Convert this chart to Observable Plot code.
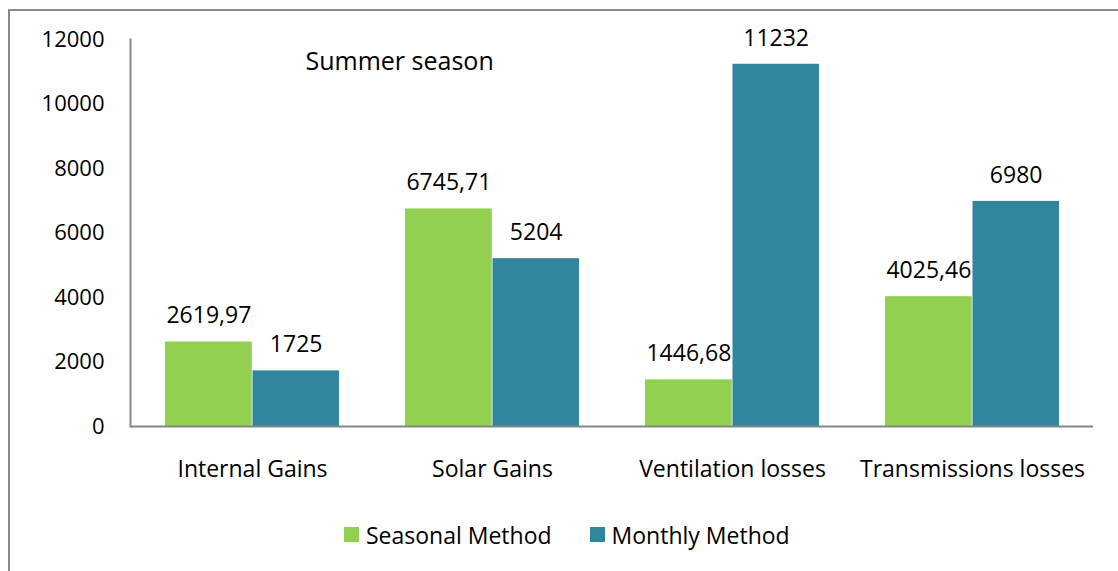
<!DOCTYPE html>
<html>
<head>
<meta charset="utf-8">
<script src="https://cdn.jsdelivr.net/npm/d3@7"></script>
<script src="https://cdn.jsdelivr.net/npm/@observablehq/plot@0.6"></script>
<style>
  html, body { margin: 0; padding: 0; background: #fff; }
  body { width: 1118px; height: 571px; position: relative; overflow: hidden; font-family: "Open Sans", sans-serif; }
  #border { position: absolute; left: 8px; top: 9px; width: 2000px; height: 2000px;
            border-left: 2px solid #8a8a8a; border-top: 2px solid #8a8a8a; pointer-events: none; }
  #chart { position: absolute; left: 0; top: 0; }
  #legend { position: absolute; left: 344px; top: 518px; }
  .lg { font-family: "Open Sans", sans-serif !important; font-size: 23px !important; color: #000 !important; margin: 0 !important; }
  .lg-swatch { margin-right: 38px !important; }
  .lg-swatch > svg { margin-right: 7px !important; }
</style>
</head>
<body>
<div id="chart"></div>
<div id="legend"></div>
<div id="border"></div>
<script>
const categories = ["Internal Gains", "Solar Gains", "Ventilation losses", "Transmissions losses"];
const seriesNames = ["Seasonal Method", "Monthly Method"];
const seasonal = [2619.97, 6745.71, 1446.68, 4025.46];
const monthly = [1725, 5204, 11232, 6980];
const yTicks = [0, 2000, 4000, 6000, 8000, 10000, 12000];
const title = "Summer season";
const colors = ["#92D050", "#31859C"];

const fmt = v => String(v).replace(".", ",");
const seasonalRows = categories.map((c, i) => ({category: c, series: seriesNames[0], value: seasonal[i], label: fmt(seasonal[i])}));
const monthlyRows = categories.map((c, i) => ({category: c, series: seriesNames[1], value: monthly[i], label: fmt(monthly[i])}));

const bandW = (1118 - 130 - 25) / categories.length;
const barW = 87.5;
const outer = 33;
const half = bandW / 2 - outer - barW / 2;

const chart = Plot.plot({
  width: 1118,
  height: 500,
  marginLeft: 130,
  marginRight: 25,
  marginTop: 39,
  marginBottom: 74,
  style: {fontFamily: "'Open Sans', sans-serif", fontSize: "22px", color: "#000", background: "transparent"},
  x: {domain: categories, padding: 0, axis: null, label: null},
  y: {domain: [0, 12000], ticks: yTicks, axis: null, label: null},
  color: {domain: seriesNames, range: colors},
  marks: [
    Plot.barY(seasonalRows, {x: "category", y: "value", fill: "series", insetLeft: outer, insetRight: bandW - outer - barW}),
    Plot.barY(monthlyRows, {x: "category", y: "value", fill: "series", insetLeft: outer + barW, insetRight: outer}),
    Plot.frame({anchor: "left", stroke: "#868686", strokeWidth: 2}),
    Plot.ruleY([0], {stroke: "#868686", strokeWidth: 2}),
    Plot.axisY({ticks: yTicks, tickSize: 0, tickPadding: 26, tickFormat: d => String(d), fontSize: 22, label: null}),
    Plot.axisX({tickSize: 0, tickPadding: 34, fontSize: 23, label: null}),
    Plot.text(seasonalRows, {x: "category", y: "value", text: "label", dx: -half, dy: -26, lineAnchor: "middle", fontSize: 23, fill: "#000"}),
    Plot.text(monthlyRows, {x: "category", y: "value", text: "label", dx: half, dy: -26, lineAnchor: "middle", fontSize: 23, fill: "#000"}),
    Plot.text([title], {frameAnchor: "top-left", dx: 175, dy: 22, textAnchor: "start", lineAnchor: "middle", fontSize: 25, fill: "#000"})
  ]
});
document.getElementById("chart").appendChild(chart);

const legend = Plot.legend({
  color: {domain: seriesNames, range: colors},
  swatchSize: 15,
  className: "lg",
  style: {fontSize: "23px", fontFamily: "'Open Sans', sans-serif"}
});
document.getElementById("legend").appendChild(legend);
</script>
</body>
</html>
